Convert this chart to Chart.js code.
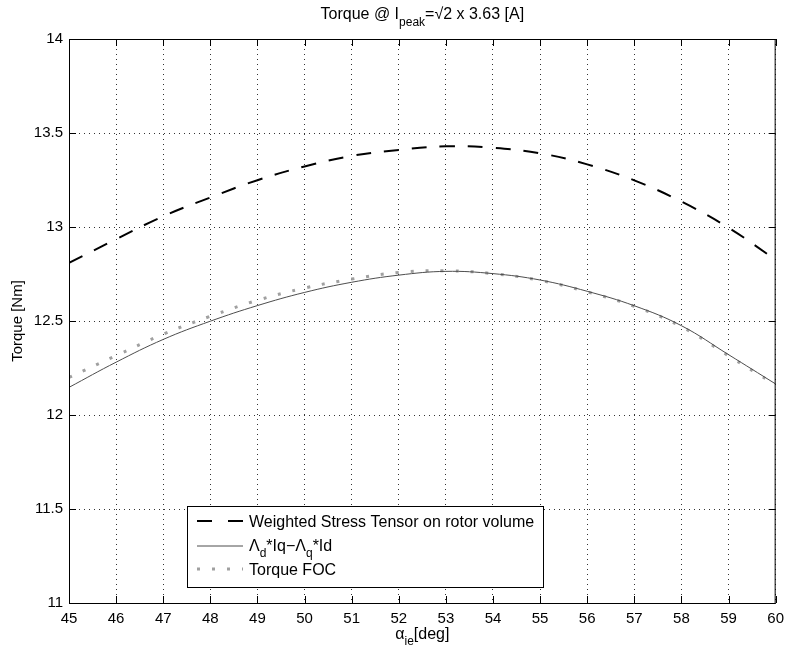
<!DOCTYPE html>
<html>
<head>
<meta charset="utf-8">
<script src="https://cdn.jsdelivr.net/npm/chart.js@4/dist/chart.umd.min.js"></script>
<style>
  html, body { margin: 0; padding: 0; background: #fff; }
  canvas { display: block; }
</style>
</head>
<body>
<canvas id="torqueChart" width="791" height="651"></canvas>
<script>
// current angle alpha_ie [deg]
const angles = [45, 46, 47, 48, 49, 50, 51, 52, 53, 54, 55, 56, 57, 58, 59, 60];
// torque from weighted stress tensor on rotor volume [Nm]
const stressTensorTorque = [12.809, 12.935, 13.057, 13.157, 13.249, 13.322, 13.378, 13.41,
                            13.429, 13.421, 13.392, 13.333, 13.248, 13.135, 12.996, 12.826];
// torque from flux linkages: Lambda_d*Iq - Lambda_q*Id [Nm]
const fluxTorque = [12.147, 12.281, 12.402, 12.499, 12.582, 12.652, 12.706, 12.744,
                    12.764, 12.752, 12.718, 12.658, 12.581, 12.475, 12.321, 12.165];
// torque from the FOC model [Nm]
const focTorque = [12.20, 12.316, 12.43, 12.525, 12.61, 12.675, 12.723, 12.758,
                   12.767, 12.752, 12.716, 12.655, 12.578, 12.47, 12.315, 12.16];
// y tick labels as printed on the axis
const yTickLabels = ['11', '11.5', '12', '12.5', '13', '13.5', '14'];

const xMin = 45, xMax = 60;
const yMin = 11, yMax = 14;

const FONT = '"Liberation Sans", Arial, Helvetica, sans-serif';
const pts = (ys) => angles.map((a, i) => ({ x: a, y: ys[i] }));

// text with subscripts: parts = [[text, isSub], ...]
function richWidth(ctx, parts, size, subSize) {
    let w = 0;
    for (let [t, sub] of parts) {
        ctx.font = (sub ? subSize : size) + 'px ' + FONT;
        w += ctx.measureText(t).width;
    }
    return w;
}

function drawRich(ctx, parts, x, y, size, subSize, subShift) {
    ctx.textBaseline = 'alphabetic';
    ctx.textAlign = 'left';
    for (let [t, sub] of parts) {
        ctx.font = (sub ? subSize : size) + 'px ' + FONT;
        ctx.fillText(t, x, sub ? y + subShift : y);
        x += ctx.measureText(t).width;
    }
}

const frameAndText = {
    id: 'frameAndText',
    afterDraw(chart) {
        const { ctx, chartArea: a, scales } = chart;
        ctx.save();
        ctx.fillStyle = '#000';
        ctx.strokeStyle = '#000';

        // axes box
        ctx.lineWidth = 1;
        ctx.strokeRect(a.left + 0.5, a.top + 0.5, a.right - a.left - 1, a.bottom - a.top);

        // inward tick marks on all four sides
        const tickLen = 7;
        ctx.beginPath();
        for (let v = xMin; v <= xMax; v++) {
            const px = Math.round(scales.x.getPixelForValue(v)) + 0.5;
            ctx.moveTo(px, a.bottom); ctx.lineTo(px, a.bottom - tickLen);
            ctx.moveTo(px, a.top); ctx.lineTo(px, a.top + tickLen);
        }
        for (let v = yMin; v <= yMax; v += 0.5) {
            const py = Math.round(scales.y.getPixelForValue(v)) + 0.5;
            ctx.moveTo(a.left, py); ctx.lineTo(a.left + tickLen, py);
            ctx.moveTo(a.right, py); ctx.lineTo(a.right - tickLen, py);
        }
        ctx.stroke();

        const cx = (a.left + a.right) / 2;

        // title
        const titleParts = [['Torque @ I', false], ['peak', true], ['=\u221A2 x 3.63 [A]', false]];
        const tw = richWidth(ctx, titleParts, 16, 12);
        drawRich(ctx, titleParts, cx - tw / 2, 19, 16, 12, 7);

        // x axis label
        const xParts = [['\u03B1', false], ['ie', true], ['[deg]', false]];
        const xw = richWidth(ctx, xParts, 16, 12);
        drawRich(ctx, xParts, cx - xw / 2, 639, 16, 12, 6);

        // y axis label
        ctx.save();
        ctx.translate(22, (a.top + a.bottom) / 2);
        ctx.rotate(-Math.PI / 2);
        ctx.font = '15px ' + FONT;
        ctx.textAlign = 'center';
        ctx.textBaseline = 'alphabetic';
        ctx.fillText('Torque [Nm]', 0, 0);
        ctx.restore();

        // legend
        const lx = 187, ly = 506, lw = 356, lh = 81;
        ctx.fillStyle = '#fff';
        ctx.fillRect(lx, ly, lw, lh);
        ctx.strokeStyle = '#000';
        ctx.lineWidth = 1;
        ctx.strokeRect(lx + 0.5, ly + 0.5, lw, lh);

        const sx0 = 197, sx1 = 243, tx = 249;
        const rows = [521, 546, 569];
        chart.data.datasets.forEach((ds, i) => {
            const y = rows[i];
            ctx.beginPath();
            ctx.strokeStyle = ds.borderColor;
            ctx.lineWidth = ds.borderWidth;
            ctx.setLineDash(i === 0 ? [15, 16] : (ds.borderDash || []));
            ctx.moveTo(sx0, y); ctx.lineTo(sx1, y);
            ctx.stroke();
        });
        ctx.setLineDash([]);
        ctx.fillStyle = '#000';
        drawRich(ctx, [['Weighted Stress Tensor on rotor volume', false]], tx, rows[0] + 6, 16, 12, 0);
        drawRich(ctx, [['\u039B', false], ['d', true], ['*Iq\u2212\u039B', false], ['q', true], ['*Id', false]],
                 tx, rows[1] + 5, 16, 12, 6);
        drawRich(ctx, [['Torque FOC', false]], tx, rows[2] + 6, 16, 12, 0);

        ctx.restore();
    }
};

new Chart(document.getElementById('torqueChart'), {
    type: 'line',
    data: {
        datasets: [
            {
                label: 'Weighted Stress Tensor on rotor volume',
                data: pts(stressTensorTorque),
                borderColor: '#000',
                borderWidth: 2,
                borderDash: [15, 13],
                tension: 0.4,
                pointRadius: 0,
                fill: false
            },
            {
                label: '\u039Bd*Iq\u2212\u039Bq*Id',
                data: pts(fluxTorque),
                borderColor: '#4d4d4d',
                borderWidth: 1,
                tension: 0.4,
                pointRadius: 0,
                fill: false
            },
            {
                label: 'Torque FOC',
                data: pts(focTorque),
                borderColor: '#a0a0a0',
                borderWidth: 3,
                borderDash: [3, 12],
                borderCapStyle: 'butt',
                tension: 0.4,
                pointRadius: 0,
                fill: false
            }
        ]
    },
    options: {
        responsive: false,
        animation: false,
        layout: { padding: { left: 0, right: 8, top: 39, bottom: 0 } },
        plugins: {
            legend: { display: false },
            tooltip: { enabled: false },
            title: { display: false }
        },
        scales: {
            x: {
                type: 'linear',
                min: xMin,
                max: xMax,
                afterFit: (scale) => { scale.height = 48; },
                ticks: { stepSize: 1, color: '#000', padding: 7, font: { family: FONT, size: 15 } },
                grid: { color: 'rgba(0,0,0,0.8)', lineWidth: 1, drawTicks: false },
                border: { display: false, dash: [1, 4] }
            },
            y: {
                type: 'linear',
                min: yMin,
                max: yMax,
                afterFit: (scale) => { scale.width = 69; },
                ticks: {
                    stepSize: 0.5,
                    color: '#000',
                    padding: 6,
                    font: { family: FONT, size: 15 },
                    callback: (value, index) => yTickLabels[index]
                },
                grid: { color: 'rgba(0,0,0,0.8)', lineWidth: 1, drawTicks: false },
                border: { display: false, dash: [1, 4] }
            }
        }
    },
    plugins: [frameAndText]
});
</script>
</body>
</html>
